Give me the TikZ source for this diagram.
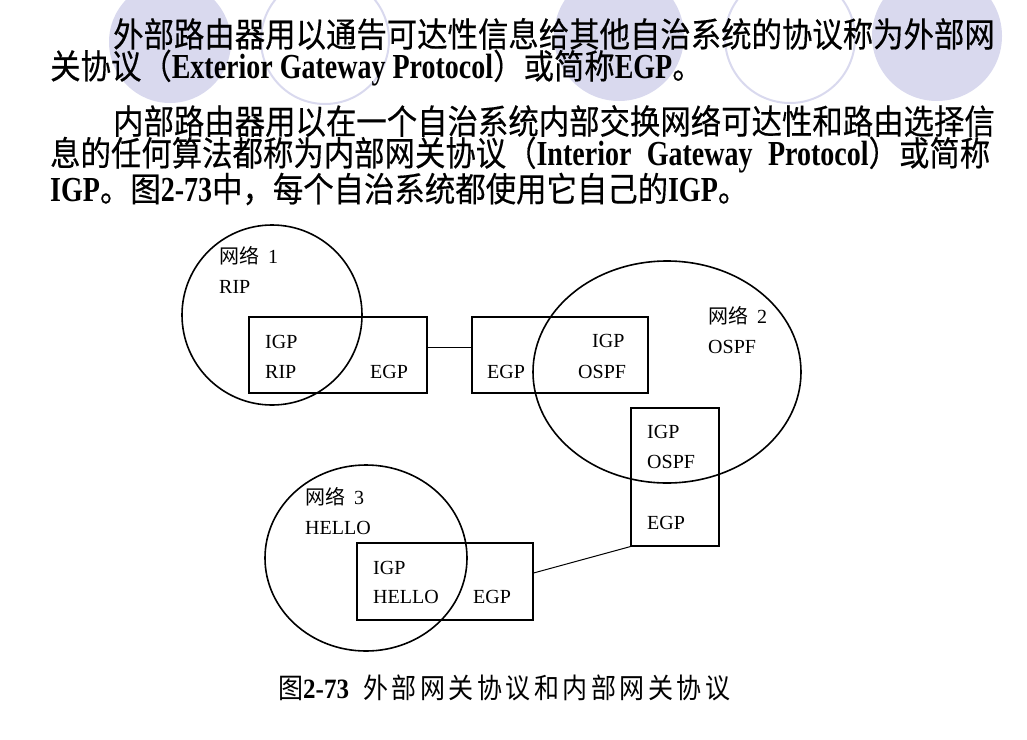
\documentclass[tikz,border=0pt]{standalone}
\usepackage{fontspec}
\setmainfont{Liberation Serif}
\newfontfamily\cjk{Noto Sans CJK SC}
\newfontfamily\cjkbody[FakeBold=0.4]{Noto Sans CJK SC}
\newfontfamily\cjkcap[LetterSpace=14]{Noto Sans CJK SC}
\definecolor{cLav}{HTML}{D9D9EE}
\newcommand{\tall}[1]{\scalebox{1}[1.12]{#1}}
\newcommand{\lat}[1]{\scalebox{1}[1.12]{\fontsize{28}{30}\selectfont\rmfamily\bfseries #1}}
\tikzset{
	txt/.style={anchor=west, inner sep=0pt, font=\fontsize{30.4}{32}\selectfont\cjkbody},
	lbl/.style={anchor=west, inner sep=0pt, font=\fontsize{20}{22}\selectfont},
	net/.style={draw, line width=1.6pt},
	router/.style={draw, line width=1.1pt, inner sep=0pt},
	link/.style={draw, line width=1pt}
}

\begin{document}
\begin{tikzpicture}[x=1pt,y=-1pt]
			\useasboundingbox (0,0) rectangle (1027,739);
			\fill [cLav] (170,42) circle [radius=61pt];
			\draw [cLav, line width=2pt] (325,40) circle [radius=64pt];
			\fill [cLav] (619,36) circle [radius=65pt];
			\draw [cLav, line width=2pt] (790,38) circle [radius=65pt];
			\fill [cLav] (937,36) circle [radius=65pt];

			\node [txt] (p1a) at (113,34) {\tall{外部路由器用以通告可达性信息给其他自治系统的协议称为外部网}};
			\node [txt] (p1b) at (50,68) {\tall{关协议（\lat{Exterior Gateway Protocol}）或简称\lat{EGP}。}};
			\node [txt] (p2a) at (113,121) {\tall{内部路由器用以在一个自治系统内部交换网络可达性和路由选择信}};
			\node [txt] (p2b) at (50,155) {\tall{\makebox[940pt][s]{息的任何算法都称为内部网关协议（\lat{Interior} \lat{Gateway} \lat{Protocol}）或简称}}};
			\node [txt] (p2c) at (50,189) {\tall{\lat{IGP}。图\lat{2-73}中，每个自治系统都使用它自己的\lat{IGP}。}};

			\draw [net] (272,315) circle [radius=90pt];
			\draw [net] (667,372) ellipse [x radius=134pt, y radius=111pt];
			\draw [net] (366,558) ellipse [x radius=101pt, y radius=93pt];

			\node [router, minimum width=178pt, minimum height=76pt] (r1) at (338,355) {};
			\node [router, minimum width=176pt, minimum height=76pt] (r2) at (560,355) {};
			\node [router, minimum width=88pt, minimum height=138pt] (r3) at (675,477) {};
			\node [router, minimum width=176pt, minimum height=77pt] (r4) at (445,581.5) {};
			\draw [link] ([yshift=8pt]r1.east) -- ([yshift=8pt]r2.west);
			\draw [link] (r3.south west) -- ([yshift=8.5pt]r4.east);

			\node [lbl] (n1) at (219,256) {{\cjk 网络}\hspace{4pt} 1};
			\node [lbl] (n1p) at (219,287) {RIP};
			\node [lbl] (n2) at (708,316) {{\cjk 网络}\hspace{4pt} 2};
			\node [lbl] (n2p) at (708,347) {OSPF};
			\node [lbl] (n3) at (305,497) {{\cjk 网络}\hspace{4pt} 3};
			\node [lbl] (n3p) at (305,528) {HELLO};

			\node [lbl] (r1i) at (265,342) {IGP};
			\node [lbl] (r1p) at (265,372) {RIP};
			\node [lbl] (r1e) at (370,372) {EGP};
			\node [lbl] (r2e) at (487,372) {EGP};
			\node [lbl] (r2i) at (592,341) {IGP};
			\node [lbl] (r2p) at (578,372) {OSPF};
			\node [lbl] (r3i) at (647,432) {IGP};
			\node [lbl] (r3p) at (647,462) {OSPF};
			\node [lbl] (r3e) at (647,523) {EGP};
			\node [lbl] (r4i) at (373,568) {IGP};
			\node [lbl] (r4p) at (373,597) {HELLO};
			\node [lbl] (r4e) at (473,597) {EGP};

			\node [anchor=west, inner sep=0pt, font=\fontsize{25}{27}\selectfont] (cap) at (278,688) {\tall{{\cjk 图}\textbf{2-73}\hspace{14pt}{\cjkcap 外部网关协议和内部网关协议}}};
		\end{tikzpicture}
\end{document}
